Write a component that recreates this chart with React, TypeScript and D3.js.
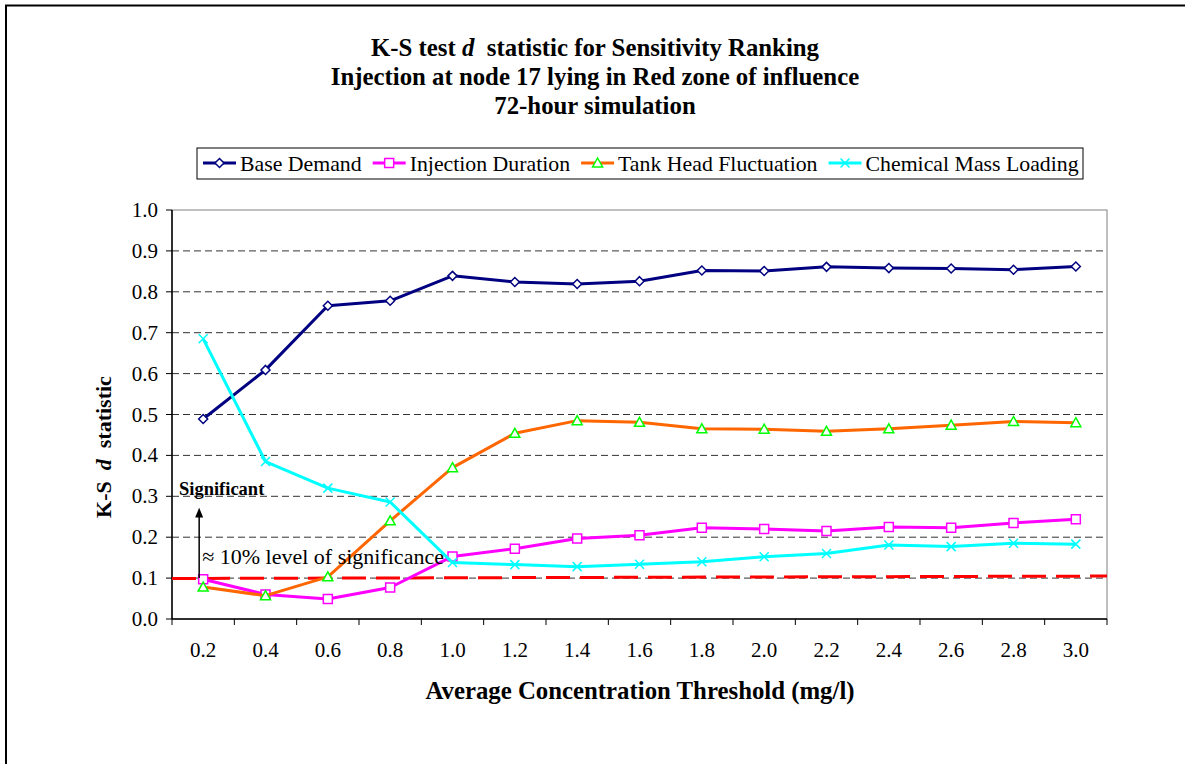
import React, { useEffect, useRef } from 'react'
import * as d3 from 'd3'

// concentration thresholds (mg/l)
const categories = ['0.2', '0.4', '0.6', '0.8', '1.0', '1.2', '1.4', '1.6', '1.8', '2.0', '2.2', '2.4', '2.6', '2.8', '3.0']

const baseDemand = [0.489, 0.609, 0.766, 0.778, 0.839, 0.824, 0.819, 0.826, 0.852, 0.851, 0.861, 0.858, 0.857, 0.854, 0.862]
const injectionDuration = [0.097, 0.060, 0.049, 0.077, 0.153, 0.172, 0.197, 0.205, 0.223, 0.220, 0.215, 0.225, 0.223, 0.235, 0.244]
const tankHead = [0.078, 0.057, 0.103, 0.240, 0.370, 0.454, 0.485, 0.481, 0.465, 0.464, 0.459, 0.465, 0.474, 0.483, 0.480]
const chemicalMass = [0.685, 0.385, 0.320, 0.286, 0.138, 0.133, 0.128, 0.134, 0.140, 0.152, 0.160, 0.181, 0.177, 0.185, 0.183]

// ~10% significance reference line (start / end value)
const significanceLine = [0.099, 0.105]

const yTicks = [0, 0.1, 0.2, 0.3, 0.4, 0.5, 0.6, 0.7, 0.8, 0.9, 1.0]

const seriesNames = ['Base Demand', 'Injection Duration', 'Tank Head Fluctuation', 'Chemical Mass Loading']

const FONT = '"Liberation Serif", "DejaVu Serif", serif'

export default function App() {
  const svgRef = useRef<SVGSVGElement>(null)

  useEffect(() => {
    const svg = d3.select(svgRef.current)
    svg.selectAll('*').remove()

    const left = 172, right = 1107, top = 210, bottom = 619

    const x = d3.scaleBand<string>().domain(categories).range([left, right]).padding(0)
    const y = d3.scaleLinear().domain([0, 1]).range([bottom, top])
    const cx = (i: number) => (x(categories[i]) as number) + x.bandwidth() / 2

    // outer chart frame (only left and top edges fall inside the picture)
    svg.append('path')
      .attr('d', 'M6,764V5.5H1185')
      .attr('fill', 'none').attr('stroke', '#000').attr('stroke-width', 2)

    // title
    const title = svg.append('g').attr('font-family', FONT).attr('font-weight', 'bold')
      .attr('font-size', 24.8).attr('text-anchor', 'middle')
    const t1 = title.append('text').attr('x', 595).attr('y', 56)
    t1.append('tspan').text('K-S test ')
    t1.append('tspan').attr('font-style', 'italic').text('d')
    t1.append('tspan').text('\u00a0 statistic for Sensitivity Ranking')
    title.append('text').attr('x', 595).attr('y', 85).text('Injection at node 17 lying in Red zone of influence')
    title.append('text').attr('x', 595).attr('y', 114).text('72-hour simulation')

    // plot area border
    svg.append('rect')
      .attr('x', left).attr('y', top)
      .attr('width', right - left).attr('height', bottom - top)
      .attr('fill', 'none').attr('stroke', '#808080').attr('stroke-width', 1)

    // gridlines
    svg.append('g').selectAll('line')
      .data(yTicks.filter(d => d > 0 && d < 1))
      .enter().append('line')
      .attr('x1', left).attr('x2', right)
      .attr('y1', d => y(d)).attr('y2', d => y(d))
      .attr('stroke', '#333').attr('stroke-width', 1)
      .attr('stroke-dasharray', '7,4')

    // y axis
    const gY = svg.append('g')
    gY.append('line').attr('x1', left).attr('x2', left).attr('y1', top).attr('y2', bottom)
      .attr('stroke', '#000').attr('stroke-width', 1.5)
    gY.selectAll('.tick').data(yTicks).enter().append('line')
      .attr('x1', left - 6).attr('x2', left)
      .attr('y1', d => y(d)).attr('y2', d => y(d))
      .attr('stroke', '#000').attr('stroke-width', 1)
    gY.selectAll('text').data(yTicks).enter().append('text')
      .attr('x', left - 14).attr('y', d => y(d) + 7)
      .attr('text-anchor', 'end').attr('font-family', FONT).attr('font-size', 21)
      .text(d => d.toFixed(1))

    // x axis
    const gX = svg.append('g')
    gX.append('line').attr('x1', left).attr('x2', right).attr('y1', bottom).attr('y2', bottom)
      .attr('stroke', '#000').attr('stroke-width', 1.5)
    const bounds = categories.map(c => x(c) as number).concat([right])
    gX.selectAll('.tick').data(bounds).enter().append('line')
      .attr('x1', d => d).attr('x2', d => d)
      .attr('y1', bottom).attr('y2', bottom + 6)
      .attr('stroke', '#000').attr('stroke-width', 1)
    gX.selectAll('text').data(categories).enter().append('text')
      .attr('x', (d, i) => cx(i)).attr('y', bottom + 38)
      .attr('text-anchor', 'middle').attr('font-family', FONT).attr('font-size', 21)
      .text(d => d)

    // axis titles
    svg.append('text')
      .attr('x', 640).attr('y', 699)
      .attr('text-anchor', 'middle').attr('font-family', FONT)
      .attr('font-weight', 'bold').attr('font-size', 24.8)
      .text('Average Concentration Threshold (mg/l)')
    const yt = svg.append('text')
      .attr('transform', 'translate(111,447) rotate(-90)')
      .attr('text-anchor', 'middle').attr('font-family', FONT)
      .attr('font-weight', 'bold').attr('font-size', 22)
    yt.append('tspan').text('K-S\u00a0 ')
    yt.append('tspan').attr('font-style', 'italic').text('d')
    yt.append('tspan').text('\u00a0 statistic')

    // significance line
    svg.append('line')
      .attr('x1', left).attr('x2', right)
      .attr('y1', y(significanceLine[0])).attr('y2', y(significanceLine[1]))
      .attr('stroke', '#FF0000').attr('stroke-width', 3)
      .attr('stroke-dasharray', '24,10')

    // series
    const line = d3.line<number>().x((d, i) => cx(i)).y(d => y(d))

    const diamond = (r: number) => `M0,${-r}L${r},0L0,${r}L${-r},0Z`
    const square = (r: number) => `M${-r},${-r}H${r}V${r}H${-r}Z`
    const triangle = (r: number) => `M0,${-r}L${r},${r * 0.8}L${-r},${r * 0.8}Z`
    const cross = (r: number) => `M${-r},${-r}L${r},${r}M${-r},${r}L${r},${-r}`

    const series = [
      { name: seriesNames[0], values: baseDemand, color: '#000080', marker: diamond(4.5), mStroke: '#000080', mFill: '#fff' },
      { name: seriesNames[1], values: injectionDuration, color: '#FF00FF', marker: square(4.5), mStroke: '#FF00FF', mFill: '#fff' },
      { name: seriesNames[2], values: tankHead, color: '#FF6600', marker: triangle(5), mStroke: '#00FF00', mFill: '#fff' },
      { name: seriesNames[3], values: chemicalMass, color: '#00FFFF', marker: cross(4.5), mStroke: '#00FFFF', mFill: 'none' },
    ]

    series.forEach(s => {
      const g = svg.append('g')
      g.append('path')
        .attr('d', line(s.values) as string)
        .attr('fill', 'none').attr('stroke', s.color).attr('stroke-width', 3)
        .attr('stroke-linejoin', 'round')
      g.selectAll('path.m').data(s.values).enter().append('path')
        .attr('class', 'm')
        .attr('d', s.marker)
        .attr('transform', (d, i) => `translate(${cx(i)},${y(d)})`)
        .attr('fill', s.mFill).attr('stroke', s.mStroke).attr('stroke-width', 1.5)
    })

    // annotation
    const ax = cx(0) - 4
    svg.append('line')
      .attr('x1', ax).attr('x2', ax)
      .attr('y1', y(0.1)).attr('y2', y(0.255))
      .attr('stroke', '#000').attr('stroke-width', 1.5)
    svg.append('path')
      .attr('d', `M${ax},${y(0.272)}L${ax - 4},${y(0.248)}L${ax + 4},${y(0.248)}Z`)
      .attr('fill', '#000')
    svg.append('text')
      .attr('x', left + 7).attr('y', y(0.303))
      .attr('font-family', FONT).attr('font-weight', 'bold').attr('font-size', 18.5)
      .text('Significant')
    svg.append('text')
      .attr('x', ax + 3).attr('y', y(0.134))
      .attr('font-family', FONT).attr('font-size', 22)
      .text('\u2248 10% level of significance')

    // legend
    const legend = svg.append('g')
    legend.append('rect')
      .attr('x', 197).attr('y', 148).attr('width', 886).attr('height', 31)
      .attr('fill', '#fff').attr('stroke', '#000').attr('stroke-width', 1)
    let lx = 203
    series.forEach(s => {
      legend.append('line')
        .attr('x1', lx).attr('x2', lx + 33).attr('y1', 163).attr('y2', 163)
        .attr('stroke', s.color).attr('stroke-width', 3)
      legend.append('path')
        .attr('d', s.marker)
        .attr('transform', `translate(${lx + 16.5},163)`)
        .attr('fill', s.mFill).attr('stroke', s.mStroke).attr('stroke-width', 1.5)
      const txt = legend.append('text')
        .attr('x', lx + 37).attr('y', 171)
        .attr('font-family', FONT).attr('font-size', 21.8)
        .text(s.name)
      const w = (txt.node() as SVGTextElement).getComputedTextLength()
      lx = lx + 37 + w + 11
    })
  }, [])

  return (
    <svg ref={svgRef} width={1185} height={764}
      style={{ position: 'absolute', left: 0, top: 0, background: '#fff' }} />
  )
}
